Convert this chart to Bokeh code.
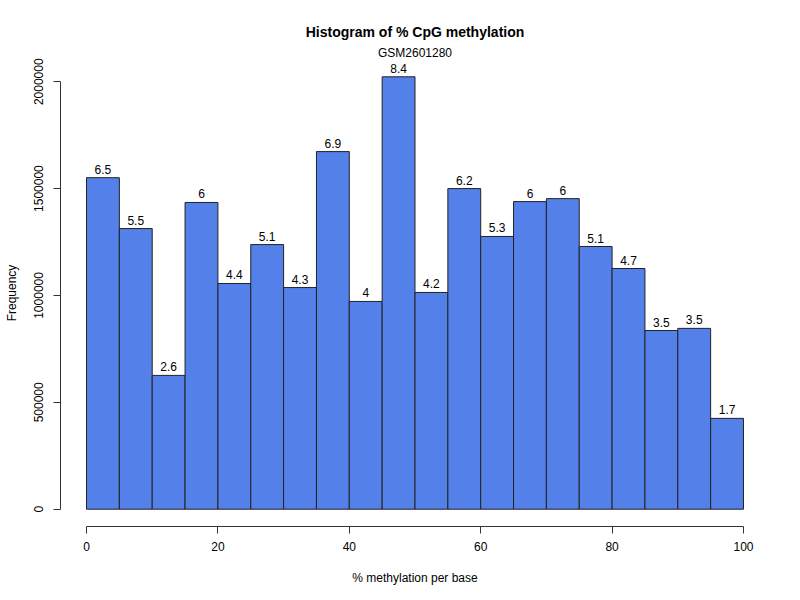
from bokeh.plotting import figure
from bokeh.models import Range1d, FixedTicker, BasicTickFormatter, Title, ColumnDataSource
from bokeh.core.properties import value
from bokeh.embed import file_html
from bokeh.resources import INLINE

# Data
bin_left = [0, 5, 10, 15, 20, 25, 30, 35, 40, 45, 50, 55, 60, 65, 70, 75, 80, 85, 90, 95]
bin_right = [5, 10, 15, 20, 25, 30, 35, 40, 45, 50, 55, 60, 65, 70, 75, 80, 85, 90, 95, 100]
counts = [1551000, 1313000, 626000, 1435000, 1056000, 1238000, 1037000, 1673000, 972000, 2023000,
          1014000, 1500000, 1276000, 1439000, 1453000, 1229000, 1126000, 836000, 846000, 425000]
pct_labels = ["6.5", "5.5", "2.6", "6", "4.4", "5.1", "4.3", "6.9", "4", "8.4",
              "4.2", "6.2", "5.3", "6", "6", "5.1", "4.7", "3.5", "3.5", "1.7"]
x_ticks = [0, 20, 40, 60, 80, 100]
y_ticks = [0, 500000, 1000000, 1500000, 2000000]

FONT = "Liberation Sans"
mids = [(a + b) / 2 for a, b in zip(bin_left, bin_right)]
src = ColumnDataSource(dict(left=bin_left, right=bin_right, top=counts,
                            bottom=[0] * len(counts), mid=mids, lab=pct_labels))

ymax = max(counts)
p = figure(width=800, height=600, output_backend="svg", toolbar_location=None,
           x_range=Range1d(-3.96, 103.96), y_range=Range1d(-0.04 * ymax, 1.04 * ymax),
           min_border_left=60, min_border_right=31, min_border_top=59, min_border_bottom=74)
p.outline_line_color = None
p.xgrid.visible = False
p.ygrid.visible = False
p.background_fill_color = "white"
p.border_fill_color = "white"

p.quad(left="left", right="right", top="top", bottom="bottom", source=src,
       fill_color="#5480E9", line_color="#222222", line_width=1)
p.text(x="mid", y="top", text="lab", source=src, text_align="center",
       text_baseline="bottom", y_offset=-4, text_font=value(FONT),
       text_font_size="12px", text_color="black")

for ax in (p.xaxis[0], p.yaxis[0]):
    ax.major_tick_out = 7
    ax.major_tick_in = 0
    ax.minor_tick_out = 0
    ax.minor_tick_in = 0
    ax.axis_line_color = "#333333"
    ax.major_tick_line_color = "#333333"
    ax.major_label_text_font = FONT
    ax.major_label_text_font_size = "12px"
    ax.major_label_text_color = "black"
    ax.axis_label_text_font = FONT
    ax.axis_label_text_font_size = "12px"
    ax.axis_label_text_font_style = "normal"
    ax.axis_label_text_color = "black"

p.xaxis.ticker = FixedTicker(ticks=x_ticks)
p.xaxis.bounds = (0, 100)
p.xaxis.axis_label = "% methylation per base"
p.xaxis.major_label_standoff = 8
p.xaxis.axis_label_standoff = 17

p.yaxis.ticker = FixedTicker(ticks=y_ticks)
p.yaxis.bounds = (0, 2000000)
p.yaxis.formatter = BasicTickFormatter(use_scientific=False)
p.yaxis.major_label_orientation = "vertical"
p.yaxis.axis_label = "Frequency"
p.yaxis.major_label_standoff = 10
p.yaxis.axis_label_standoff = 13

sub = Title(text="GSM2601280", align="center", text_font=FONT, text_font_size="12px",
            text_font_style="normal", text_color="black", standoff=0)
main = Title(text="Histogram of % CpG methylation", align="center", text_font=FONT,
             text_font_size="14px", text_font_style="bold", text_color="black", standoff=8)
p.add_layout(sub, "above")
p.add_layout(main, "above")

open("out.html", "w").write(file_html(p, INLINE))
